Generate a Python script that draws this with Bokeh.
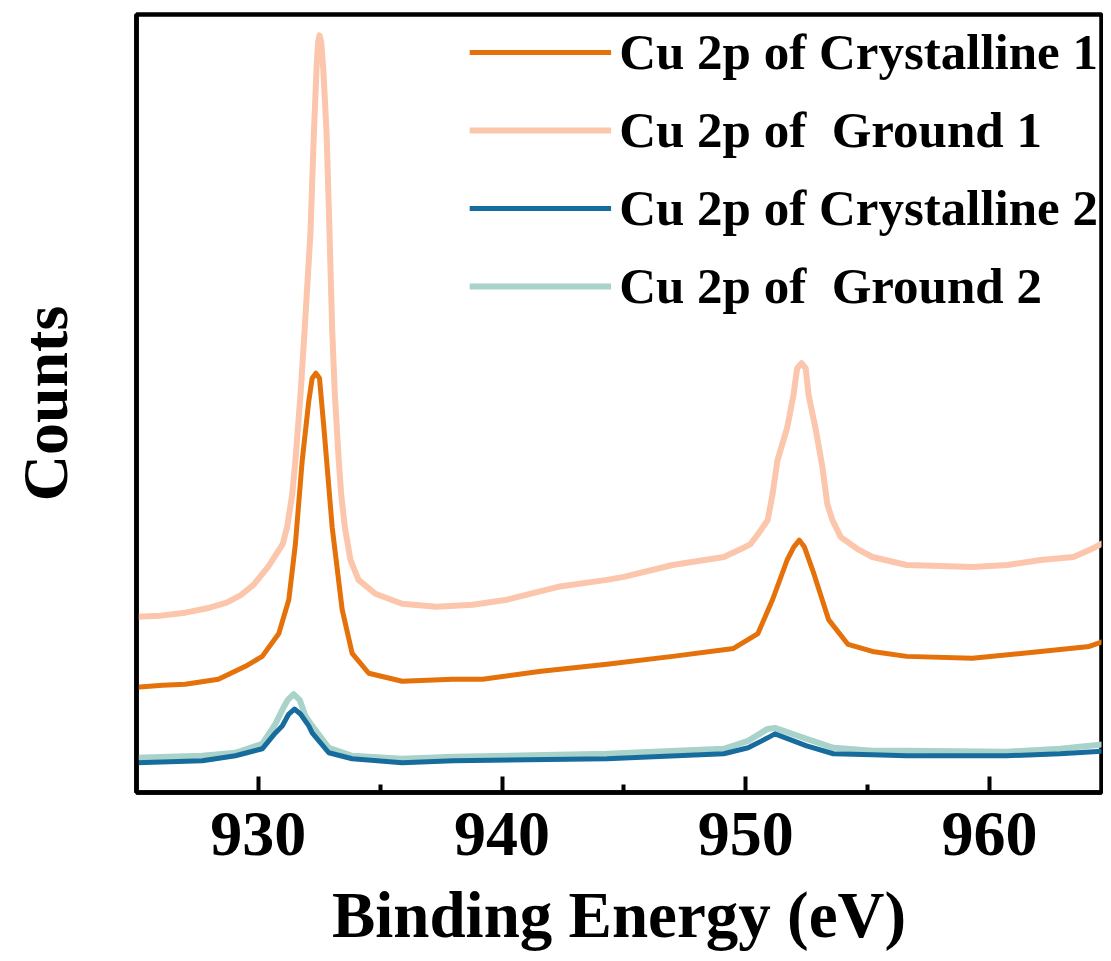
from bokeh.plotting import figure
from bokeh.models import Range1d, FixedTicker, Legend, LegendItem
from bokeh.embed import file_html
from bokeh.resources import INLINE

# ---- data (binding energy in eV, counts in arbitrary units) ----
ground1_x = [925.0, 926.0, 927.0, 928.0, 928.7, 929.3, 929.8, 930.4, 931.0, 931.18, 931.39,
             931.52, 931.73, 931.9, 932.14, 932.28, 932.39, 932.45, 932.51, 932.58, 932.66,
             932.8, 932.92, 933.03, 933.14, 933.3, 933.4, 933.55, 933.78, 934.11, 934.8,
             935.9, 937.3, 938.8, 940.2, 942.3, 944.3, 945.0, 947.0, 949.1, 949.8, 950.2,
             950.5, 950.9, 951.1, 951.3, 951.7, 951.96, 952.11, 952.29, 952.46, 952.58,
             952.86, 953.15, 953.35, 953.56, 953.9, 954.59, 955.2, 956.6, 958.0, 959.3,
             960.74, 962.1, 963.45, 964.1, 964.9]
ground1_y = [177, 178, 181, 186, 191, 199, 209, 227, 250, 267, 300,
             334, 400, 466, 564, 664, 730, 755, 762, 755, 730,
             664, 564, 466, 400, 334, 300, 267, 234, 214, 200,
             190, 187, 189, 194, 207, 214, 217, 229, 237, 245, 250,
             260, 274, 300, 334, 367, 400, 427, 432, 427, 400,
             367, 327, 290, 274, 257, 245, 237, 229, 228, 227,
             229, 234, 237, 244, 254]

cryst1_x = [925.0, 926.07, 927.0, 928.36, 929.47, 930.16, 930.84, 931.25, 931.52, 931.8,
            932.07, 932.21, 932.36, 932.51, 932.69, 933.03, 933.44, 933.85, 934.53, 935.9,
            937.95, 939.2, 941.6, 944.3, 947.0, 949.5, 950.5, 951.1, 951.7, 951.97,
            952.2, 952.41, 952.8, 953.4, 954.2, 955.2, 956.6, 959.3, 962.1, 964.1, 964.9]
cryst1_y = [106, 108, 109, 114, 127, 137, 160, 194, 250, 334,
            394, 417, 422, 417, 367, 267, 184, 140, 120, 112,
            114, 114, 122, 129, 137, 145, 160, 194, 234, 247,
            254, 247, 220, 174, 149, 142, 137, 135, 142, 147, 154]

cryst2_x = [925.0, 927.7, 929.06, 930.16, 930.7, 930.98, 931.25, 931.48, 931.73, 932.07,
            932.21, 932.89, 933.85, 935.9, 938.0, 944.3, 949.1, 950.1, 950.9, 951.2,
            952.5, 953.6, 955.2, 956.6, 960.7, 962.9, 964.9]
cryst2_y = [30, 32, 37, 44, 60, 67, 79, 84, 79, 67,
            60, 40, 34, 30, 32, 34, 39, 45, 55, 59,
            47, 39, 38, 37, 37, 39, 42]

ground2_x = [925.0, 927.7, 929.06, 930.16, 930.7, 931.0, 931.2, 931.45, 931.7, 931.93,
             932.21, 932.89, 933.85, 935.9, 938.0, 944.3, 949.1, 950.1, 950.9, 951.2,
             952.5, 953.6, 955.2, 956.6, 960.7, 962.9, 964.9]
ground2_y = [35, 37, 40, 49, 69, 84, 93, 99, 93, 77,
             67, 45, 37, 34, 36, 39, 44, 52, 64, 65,
             54, 45, 42, 42, 41, 44, 49]

x_ticks = [930, 940, 950, 960]
x_minor = [935, 945, 955]
labels = ["Cu 2p of Crystalline 1", "Cu 2p of  Ground 1",
          "Cu 2p of Crystalline 2", "Cu 2p of  Ground 2"]
colors = ["#E4710A", "#FBC6AC", "#176C9E", "#A8D2CA"]

FONT = "Liberation Serif"

p = figure(width=1103, height=953, output_backend="svg", toolbar_location=None,
           x_range=Range1d(925, 964.6), y_range=Range1d(0, 783),
           min_border_left=136, min_border_right=2, min_border_top=14, min_border_bottom=156)
p.background_fill_color = "white"
p.border_fill_color = "white"
p.grid.visible = False
p.outline_line_color = "black"
p.outline_line_width = 4.5

r_g1 = p.line(ground1_x, ground1_y, line_color=colors[1], line_width=6, line_join="round")
r_c1 = p.line(cryst1_x, cryst1_y, line_color=colors[0], line_width=5, line_join="round")
r_g2 = p.line(ground2_x, ground2_y, line_color=colors[3], line_width=6, line_join="round")
r_c2 = p.line(cryst2_x, cryst2_y, line_color=colors[2], line_width=5, line_join="round")

xa = p.xaxis[0]
xa.ticker = FixedTicker(ticks=x_ticks, minor_ticks=x_minor)
xa.axis_line_width = 4.5
xa.major_tick_in = 16
xa.major_tick_out = 0
xa.minor_tick_in = 8
xa.minor_tick_out = 0
xa.major_tick_line_width = 4
xa.minor_tick_line_width = 4
xa.major_label_text_font = FONT
xa.major_label_text_font_style = "bold"
xa.major_label_text_font_size = "64px"
xa.major_label_text_color = "black"
xa.major_label_standoff = 20
xa.axis_label = "Binding Energy (eV)"
xa.axis_label_text_font = FONT
xa.axis_label_text_font_style = "bold"
xa.axis_label_text_font_size = "65px"
xa.axis_label_text_color = "black"
xa.axis_label_standoff = 21

ya = p.yaxis[0]
ya.ticker = FixedTicker(ticks=[])
ya.axis_line_width = 4.5
ya.major_tick_in = 0
ya.major_tick_out = 0
ya.minor_tick_in = 0
ya.minor_tick_out = 0
ya.axis_label = "Counts"
ya.axis_label_text_font = FONT
ya.axis_label_text_font_style = "bold"
ya.axis_label_text_font_size = "64px"
ya.axis_label_text_color = "black"
ya.axis_label_standoff = 56

legend = Legend(items=[LegendItem(label=labels[0], renderers=[r_c1]),
                       LegendItem(label=labels[1], renderers=[r_g1]),
                       LegendItem(label=labels[2], renderers=[r_c2]),
                       LegendItem(label=labels[3], renderers=[r_g2])],
                location="top_right")
legend.border_line_alpha = 0
legend.background_fill_alpha = 0
legend.padding = 0
legend.margin = 3
legend.spacing = 8
legend.glyph_width = 142
legend.glyph_height = 70
legend.label_height = 70
legend.label_standoff = 8
legend.label_text_font = FONT
legend.label_text_font_style = "bold"
legend.label_text_font_size = "51px"
legend.label_text_color = "black"
p.add_layout(legend)

open("out.html", "w").write(file_html(p, INLINE))
